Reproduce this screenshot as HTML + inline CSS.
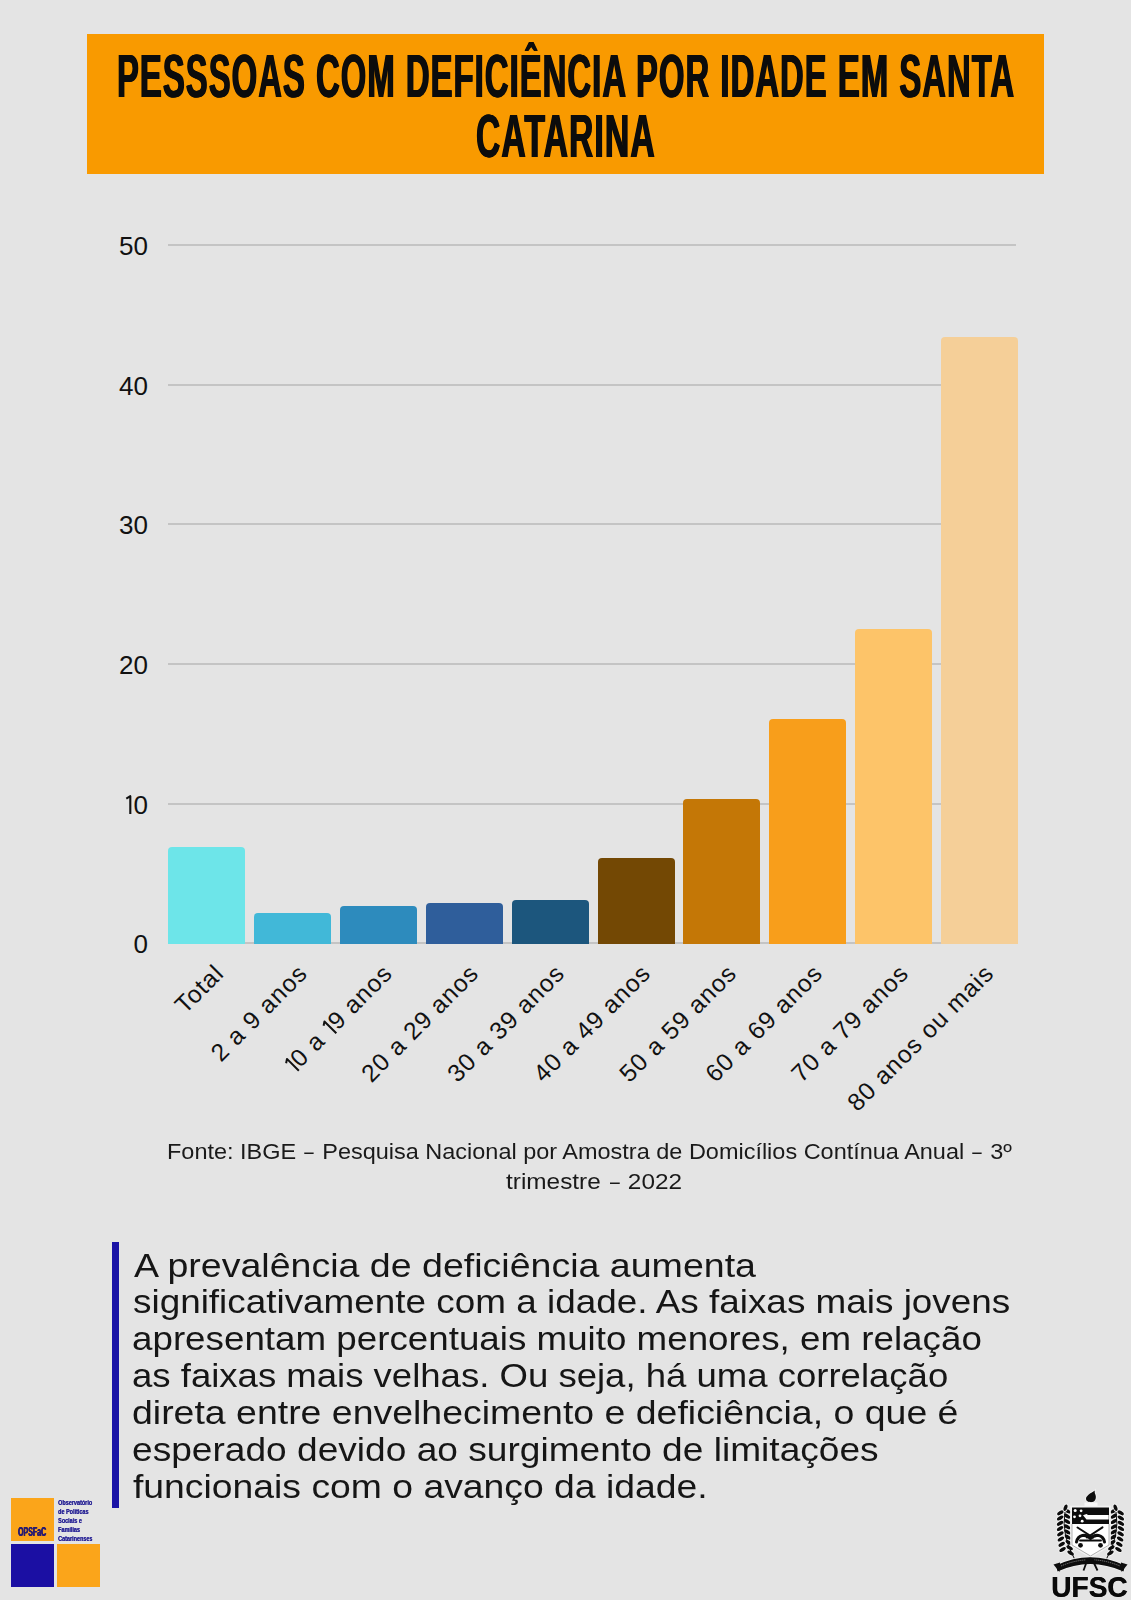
<!DOCTYPE html>
<html><head><meta charset="utf-8">
<style>
html,body{margin:0;padding:0;}
body{width:1131px;height:1600px;background:#e4e4e4;position:relative;overflow:hidden;font-family:"Liberation Sans",sans-serif;color:#111;}
.t{position:absolute;white-space:nowrap;line-height:1;transform-origin:0 0;}
#tbox{position:absolute;left:87px;top:34px;width:957px;height:140px;background:#f99a00;}
.tt{font-weight:bold;font-size:62px;letter-spacing:2px;color:#0c0c0c;text-shadow:1.1px 0 0 #0c0c0c,-1.1px 0 0 #0c0c0c;}
.g{position:absolute;left:168px;width:848px;height:2px;background:#c4c4c4;}
.yl{position:absolute;width:60px;left:88px;text-align:right;font-size:26px;line-height:1;color:#111;}
.b{position:absolute;width:77px;border-radius:4px 4px 0 0;}
.xl{position:absolute;white-space:nowrap;font-size:24.5px;letter-spacing:1px;line-height:1;color:#111;transform-origin:100% 50%;transform:rotate(-45deg);}
.n1{display:inline-block;width:8px;height:1em;vertical-align:top;}

.d{display:inline-block;transform:scaleX(0.72);}
.src{font-size:21.5px;color:#1a1a1a;}
.p{font-size:33.5px;color:#161616;}
</style></head><body>
<div id="tbox"></div>
<div class="t tt" id="m_t1" style="left:116.8px;top:44.7px;transform:scaleX(0.5289)">PESSSOAS COM DEFICIÊNCIA POR IDADE EM SANTA</div>
<div class="t tt" id="m_t2" style="left:475.8px;top:105px;transform:scaleX(0.5440)">CATARINA</div>

<div class="g" style="top:244px"></div>
<div class="g" style="top:384px"></div>
<div class="g" style="top:523px"></div>
<div class="g" style="top:663px"></div>
<div class="g" style="top:803px"></div>
<div class="g" style="top:942px"></div>

<div class="yl" id="m_y50" style="top:233px">50</div>
<div class="yl" id="m_y40" style="top:373px">40</div>
<div class="yl" id="m_y30" style="top:512px">30</div>
<div class="yl" id="m_y20" style="top:652px">20</div>
<div class="yl" id="m_y10" style="top:792px">0</div>
<svg style="position:absolute;left:124px;top:794px" width="10" height="22"><path d="M2.3 4.6 L6.3 2.2 V20" stroke="#111" stroke-width="2.1" fill="none" stroke-linejoin="round"/></svg>
<div class="yl" id="m_y0" style="top:931px">0</div>

<div class="b" style="left:168px;top:847px;height:97px;background:#6de5e9"></div>
<div class="b" style="left:254px;top:913px;height:31px;background:#41b8d8"></div>
<div class="b" style="left:340px;top:906px;height:38px;background:#2d8bbd"></div>
<div class="b" style="left:426px;top:903px;height:41px;background:#2f5e9b"></div>
<div class="b" style="left:512px;top:900px;height:44px;background:#1c567d"></div>
<div class="b" style="left:598px;top:858px;height:86px;background:#734804"></div>
<div class="b" style="left:683px;top:799px;height:145px;background:#c47706"></div>
<div class="b" style="left:769px;top:719px;height:225px;background:#f89e1b"></div>
<div class="b" style="left:855px;top:629px;height:315px;background:#fdc469"></div>
<div class="b" style="left:941px;top:337px;height:607px;background:#f5cf98"></div>

<div class="xl" id="m_x0" style="right:911.5px;top:957px">Total</div>
<div class="xl" id="m_x1" style="right:827.5px;top:957px">2 a 9 anos</div>
<div class="xl" id="m_x2" style="right:742.5px;top:957px"><span class="n1"><svg width="8" height="24.5" style="display:block"><path d="M1.6 6.4 L5.3 3.9 V20.7" stroke="#111" stroke-width="2" fill="none" stroke-linejoin="round"/></svg></span>0 a <span class="n1"><svg width="8" height="24.5" style="display:block"><path d="M1.6 6.4 L5.3 3.9 V20.7" stroke="#111" stroke-width="2" fill="none" stroke-linejoin="round"/></svg></span>9 anos</div>
<div class="xl" id="m_x3" style="right:656.5px;top:957px">20 a 29 anos</div>
<div class="xl" id="m_x4" style="right:570.5px;top:957px">30 a 39 anos</div>
<div class="xl" id="m_x5" style="right:484.5px;top:957px">40 a 49 anos</div>
<div class="xl" id="m_x6" style="right:398.5px;top:957px">50 a 59 anos</div>
<div class="xl" id="m_x7" style="right:312.5px;top:957px">60 a 69 anos</div>
<div class="xl" id="m_x8" style="right:226.5px;top:957px">70 a 79 anos</div>
<div class="xl" id="m_x9" style="right:141.5px;top:957px">80 anos ou mais</div>

<div class="t src" id="m_s1" style="left:166.52px;top:1141.70px;transform:scaleX(1.0917)">Fonte: IBGE <span class="d">–</span> Pesquisa Nacional por Amostra de Domicílios Contínua Anual <span class="d">–</span> 3º</div>
<div class="t src" id="m_s2" style="left:505.80px;top:1171.60px;transform:scaleX(1.1331)">trimestre <span class="d">–</span> 2022</div>

<div style="position:absolute;left:112px;top:1242px;width:7px;height:266px;background:#1a13a6"></div>
<div class="t p" id="m_p1" style="left:134.00px;top:1248.64px;transform:scaleX(1.1207)">A prevalência de deficiência aumenta</div>
<div class="t p" id="m_p2" style="left:133.40px;top:1285.44px;transform:scaleX(1.1008)">significativamente com a idade. As faixas mais jovens</div>
<div class="t p" id="m_p3" style="left:132.31px;top:1322.24px;transform:scaleX(1.0971)">apresentam percentuais muito menores, em relação</div>
<div class="t p" id="m_p4" style="left:132.32px;top:1359.04px;transform:scaleX(1.0905)">as faixas mais velhas. Ou seja, há uma correlação</div>
<div class="t p" id="m_p5" style="left:132.26px;top:1395.94px;transform:scaleX(1.1178)">direta entre envelhecimento e deficiência, o que é</div>
<div class="t p" id="m_p6" style="left:132.28px;top:1432.84px;transform:scaleX(1.1076)">esperado devido ao surgimento de limitações</div>
<div class="t p" id="m_p7" style="left:133.39px;top:1469.74px;transform:scaleX(1.1139)">funcionais com o avanço da idade.</div>

<!-- OPSFaC logo -->
<div style="position:absolute;left:11px;top:1498px;width:43px;height:43px;background:#fba51a"></div>
<div style="position:absolute;left:11px;top:1544px;width:43px;height:43px;background:#1b0fa3"></div>
<div style="position:absolute;left:57px;top:1544px;width:43px;height:43px;background:#fba51a"></div>

<div class="t" id="m_op" style="left:18px;top:1525px;font-weight:bold;font-size:13px;color:#2a1c70;text-shadow:0.7px 0 0 #2a1c70,-0.3px 0 0 #2a1c70;transform:scaleX(0.54)">OPSFaC</div>
<div class="t" id="m_ot" style="left:57.5px;top:1497.5px;font-weight:bold;font-size:7.6px;line-height:9.2px;color:#2a2596;text-shadow:0.4px 0 0 #2a2596;transform:scaleX(0.72)">Observatório<br>de Políticas<br>Sociais e<br>Famílias<br>Catarinenses</div>
<!-- UFSC -->
<svg style="position:absolute;left:1031px;top:1480px" width="100" height="120" viewBox="1031 1480 100 120">
<defs><filter id="hb" x="-20%" y="-20%" width="140%" height="140%"><feGaussianBlur stdDeviation="0.45"/></filter></defs>
<g filter="url(#hb)">
<g fill="#0d0d0d" stroke="#f4f4f4" stroke-width="1.6" paint-order="stroke">
<ellipse cx="1067.4" cy="1511.0" rx="3.6" ry="1.8" transform="rotate(32 1067.4 1511.0)"/>
<ellipse cx="1060.4" cy="1512.8" rx="3.6" ry="1.8" transform="rotate(-32 1060.4 1512.8)"/>
<ellipse cx="1067.2" cy="1516.2" rx="3.6" ry="1.8" transform="rotate(32 1067.2 1516.2)"/>
<ellipse cx="1060.2" cy="1518.0" rx="3.6" ry="1.8" transform="rotate(-32 1060.2 1518.0)"/>
<ellipse cx="1067.1" cy="1521.5" rx="3.6" ry="1.8" transform="rotate(32 1067.1 1521.5)"/>
<ellipse cx="1060.1" cy="1523.3" rx="3.6" ry="1.8" transform="rotate(-32 1060.1 1523.3)"/>
<ellipse cx="1067.1" cy="1526.8" rx="3.6" ry="1.8" transform="rotate(32 1067.1 1526.8)"/>
<ellipse cx="1060.1" cy="1528.5" rx="3.6" ry="1.8" transform="rotate(-32 1060.1 1528.5)"/>
<ellipse cx="1067.4" cy="1532.0" rx="3.6" ry="1.8" transform="rotate(32 1067.4 1532.0)"/>
<ellipse cx="1060.4" cy="1533.8" rx="3.6" ry="1.8" transform="rotate(-32 1060.4 1533.8)"/>
<ellipse cx="1067.9" cy="1537.2" rx="3.6" ry="1.8" transform="rotate(32 1067.9 1537.2)"/>
<ellipse cx="1060.9" cy="1539.0" rx="3.6" ry="1.8" transform="rotate(-32 1060.9 1539.0)"/>
<ellipse cx="1068.7" cy="1542.5" rx="3.6" ry="1.8" transform="rotate(32 1068.7 1542.5)"/>
<ellipse cx="1061.7" cy="1544.3" rx="3.6" ry="1.8" transform="rotate(-32 1061.7 1544.3)"/>
<ellipse cx="1069.6" cy="1547.8" rx="3.6" ry="1.8" transform="rotate(32 1069.6 1547.8)"/>
<ellipse cx="1062.6" cy="1549.5" rx="3.6" ry="1.8" transform="rotate(-32 1062.6 1549.5)"/>
<ellipse cx="1070.6" cy="1553.0" rx="3.6" ry="1.8" transform="rotate(32 1070.6 1553.0)"/>
<ellipse cx="1113.6" cy="1511.0" rx="3.6" ry="1.8" transform="rotate(-32 1113.6 1511.0)"/>
<ellipse cx="1120.6" cy="1512.8" rx="3.6" ry="1.8" transform="rotate(32 1120.6 1512.8)"/>
<ellipse cx="1113.8" cy="1516.2" rx="3.6" ry="1.8" transform="rotate(-32 1113.8 1516.2)"/>
<ellipse cx="1120.8" cy="1518.0" rx="3.6" ry="1.8" transform="rotate(32 1120.8 1518.0)"/>
<ellipse cx="1113.9" cy="1521.5" rx="3.6" ry="1.8" transform="rotate(-32 1113.9 1521.5)"/>
<ellipse cx="1120.9" cy="1523.3" rx="3.6" ry="1.8" transform="rotate(32 1120.9 1523.3)"/>
<ellipse cx="1113.9" cy="1526.8" rx="3.6" ry="1.8" transform="rotate(-32 1113.9 1526.8)"/>
<ellipse cx="1120.9" cy="1528.5" rx="3.6" ry="1.8" transform="rotate(32 1120.9 1528.5)"/>
<ellipse cx="1113.6" cy="1532.0" rx="3.6" ry="1.8" transform="rotate(-32 1113.6 1532.0)"/>
<ellipse cx="1120.6" cy="1533.8" rx="3.6" ry="1.8" transform="rotate(32 1120.6 1533.8)"/>
<ellipse cx="1113.1" cy="1537.2" rx="3.6" ry="1.8" transform="rotate(-32 1113.1 1537.2)"/>
<ellipse cx="1120.1" cy="1539.0" rx="3.6" ry="1.8" transform="rotate(32 1120.1 1539.0)"/>
<ellipse cx="1112.3" cy="1542.5" rx="3.6" ry="1.8" transform="rotate(-32 1112.3 1542.5)"/>
<ellipse cx="1119.3" cy="1544.3" rx="3.6" ry="1.8" transform="rotate(32 1119.3 1544.3)"/>
<ellipse cx="1111.4" cy="1547.8" rx="3.6" ry="1.8" transform="rotate(-32 1111.4 1547.8)"/>
<ellipse cx="1118.4" cy="1549.5" rx="3.6" ry="1.8" transform="rotate(32 1118.4 1549.5)"/>
<ellipse cx="1110.4" cy="1553.0" rx="3.6" ry="1.8" transform="rotate(-32 1110.4 1553.0)"/>
<ellipse cx="1065.5" cy="1507.8" rx="1.8" ry="3.4" transform="rotate(18 1065.5 1507.8)"/>
<ellipse cx="1115.5" cy="1507.8" rx="1.8" ry="3.4" transform="rotate(-18 1115.5 1507.8)"/>
</g>
<path d="M1065 1512 Q1061 1535 1075 1560" fill="none" stroke="#0d0d0d" stroke-width="1"/>
<path d="M1116 1512 Q1120 1535 1106 1560" fill="none" stroke="#0d0d0d" stroke-width="1"/>
<path d="M1094.8 1490.5 C1091 1493 1086 1495.5 1086 1498.8 C1086 1501.2 1088.5 1502.2 1091 1502.2 C1094.5 1502.2 1096.2 1499.5 1095.8 1496 C1095.4 1494 1094.2 1492.5 1094.8 1490.5 Z" fill="#0d0d0d" stroke="#f6f6f6" stroke-width="1.4" paint-order="stroke"/>
<rect x="1084.5" y="1502.5" width="13" height="4" fill="#f8f8f8"/>
<path d="M1071 1506.5 H1110 V1545.5 L1090.5 1557 L1071 1545.5 Z" fill="#fff" stroke="#f2f2f2" stroke-width="1.6"/>
<path d="M1072 1524 V1545 L1090.5 1556 L1109 1545 V1524" fill="none" stroke="#8f8f8f" stroke-width="0.7"/>
<rect x="1072" y="1507.5" width="37" height="16.5" fill="#0d0d0d"/>
<g fill="#fff">
<circle cx="1075.2" cy="1510.6" r="1.5"/><circle cx="1081.1" cy="1510.8" r="1.4"/>
<circle cx="1074.5" cy="1516.8" r="1.4"/><circle cx="1080" cy="1515.8" r="1.4"/>
<circle cx="1082.2" cy="1521.2" r="1.4"/>
<path d="M1083 1515.2 L1086.5 1514 L1088 1515 H1108.7 V1519.4 H1086.5 Z"/>
</g>
<g fill="none" stroke="#0d0d0d" stroke-linecap="round">
<path d="M1077.5 1527.5 L1093 1537.5" stroke-width="2"/>
<path d="M1102.5 1527.3 L1087 1537.5" stroke-width="2"/>
<path d="M1076.5 1542 C1078 1534.5 1086 1533.5 1090.5 1538.5 C1095 1533.5 1103 1534.5 1104.5 1542" stroke-width="3"/>
<path d="M1080 1540.5 L1101 1540.5" stroke-width="1.8"/>
</g>
<g fill="#0d0d0d"><circle cx="1080.5" cy="1545.3" r="2.4"/><circle cx="1100.5" cy="1545.3" r="2.4"/></g>
<path d="M1056 1565.5 Q1090 1549 1125 1565.5 L1123.5 1571.5 Q1090 1556.5 1057.5 1571.5 Z" fill="#0d0d0d" stroke="#f6f6f6" stroke-width="1.3" paint-order="stroke"/>
<path d="M1053.5 1564.5 L1060 1562.5 L1059.5 1572 Z" fill="#0d0d0d"/>
<path d="M1127.5 1564.5 L1121 1562.5 L1121.5 1572 Z" fill="#0d0d0d"/>
<path d="M1061 1566 Q1090 1553.5 1120 1566" fill="none" stroke="#bdbdbd" stroke-width="0.6" stroke-dasharray="1.2 0.8"/>
<ellipse cx="1090" cy="1560.5" rx="4.5" ry="2.8" fill="#0d0d0d"/>
<path d="M1087 1561 L1083.5 1570.5" stroke="#0d0d0d" stroke-width="1.8" fill="none"/>
<path d="M1093 1561 L1097.5 1570.5" stroke="#0d0d0d" stroke-width="1.8" fill="none"/>
</g>
</svg>
<div class="t" id="m_ufsc" style="left:1051px;top:1572.3px;font-weight:bold;font-size:30px;color:#0a0a0a;text-shadow:0.6px 0 0 #0a0a0a;transform:scaleX(0.935)">UFSC</div>
</body></html>
